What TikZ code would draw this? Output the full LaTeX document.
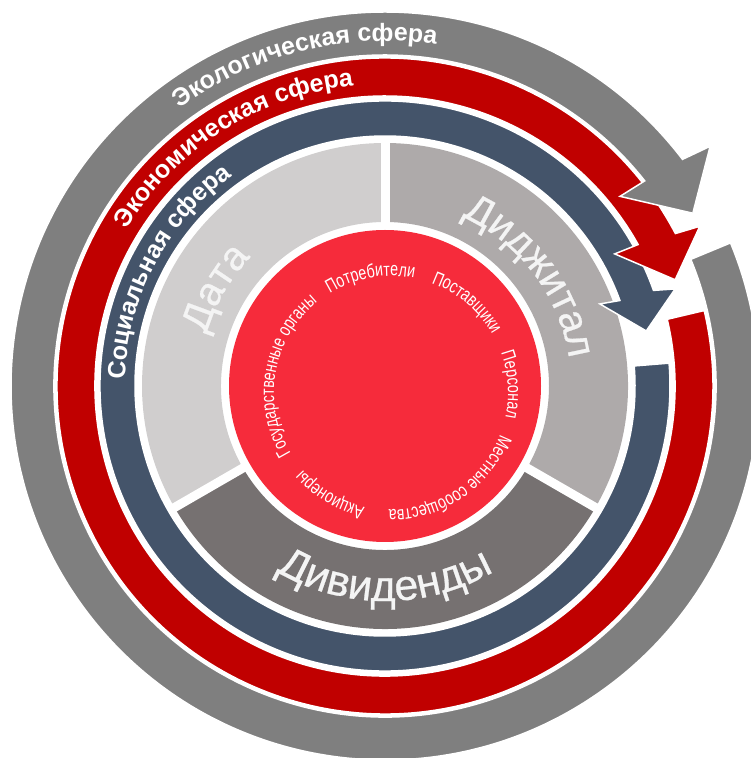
\documentclass[tikz,border=0pt]{standalone}
\usepackage{fontspec}
\setmainfont{Liberation Sans}
\newfontfamily\segfamily[FakeBold=0.6]{Liberation Sans}
\newfontfamily\corefamily[FakeStretch=0.75]{Liberation Sans}
\usetikzlibrary{decorations.text}
\definecolor{ringgrey}{HTML}{7F7F7F}
\definecolor{ringred}{HTML}{C00000}
\definecolor{ringnavy}{HTML}{44546A}
\definecolor{coreRed}{HTML}{F62B3B}
\definecolor{segA}{HTML}{D0CECE}
\definecolor{segB}{HTML}{AEAAAA}
\definecolor{segC}{HTML}{767171}
\definecolor{segtext}{HTML}{F4F4F4}
\newcommand\bandfont{\fontsize{25}{25}\selectfont\bfseries}
\newcommand\segfont{\fontsize{40}{40}\selectfont\segfamily}
\newcommand\segfontbig{\fontsize{43}{43}\selectfont\segfamily}
\newcommand\corefont{\fontsize{19}{19}\selectfont\corefamily}
\tikzset{
  ringshape/.style={fill=#1, draw=white, line width=1.5pt, line join=miter},
  segshape/.style={fill=#1},
  sepline/.style={white, line width=9pt},
  curvedtext/.style={decorate, decoration={text along path, text align=center, text color=white, text={#1}}},
  segtextpath/.style={decorate, decoration={text along path, text align=center, text color=segtext, text={#1}}}
}
\begin{document}
\begin{tikzpicture}[x=1pt,y=1pt]
\useasboundingbox (0,0) rectangle (751,758);
\begin{scope}[shift={(385,372)}]
  % segment ring
  \fill[segshape=segA] (90:243) arc[start angle=90,end angle=210,radius=243] -- (210:164) arc[start angle=210,end angle=90,radius=164] -- cycle;
  \fill[segshape=segB] (-30:243) arc[start angle=-30,end angle=90,radius=243] -- (90:164) arc[start angle=90,end angle=-30,radius=164] -- cycle;
  \fill[segshape=segC] (210:243) arc[start angle=210,end angle=330,radius=243] -- (330:164) arc[start angle=330,end angle=210,radius=164] -- cycle;
  \draw[sepline] (90:160) -- (90:247);
  \draw[sepline] (210:160) -- (210:247);
  \draw[sepline] (330:160) -- (330:247);
  % core
  \fill[coreRed] (0,0) circle[radius=156];
  % navy arrow
  \filldraw[ringshape=ringnavy] (20:250) -- (20.9:230) -- (11.9:267) -- (18.5:306) -- (19.6:285)
     arc[start angle=19.6,end angle=364.6,radius=285] -- (364.6:250)
     arc[start angle=364.6,end angle=20,radius=250] -- cycle;
  % red arrow
  \filldraw[ringshape=ringred] (29.2:290) -- (29.9:265) -- (20.1:309) -- (26.9:353) -- (27.7:328)
     arc[start angle=27.7,end angle=373.3,radius=328] -- (373.3:290)
     arc[start angle=373.3,end angle=29.2,radius=290] -- cycle;
  % grey arrow
  \filldraw[ringshape=ringgrey] (38.3:331) -- (38.9:302) -- (29.3:353) -- (36.4:404) -- (37.3:374)
     arc[start angle=37.3,end angle=382.5,radius=374] -- (382.5:331)
     arc[start angle=382.5,end angle=38.3,radius=331] -- cycle;
  % ring labels
  \path[curvedtext={|\bandfont|Экологическая сфера}] (170:345) arc[start angle=170,end angle=38,radius=345];
  \path[curvedtext={|\bandfont|Экономическая сфера}] (188.4:302) arc[start angle=188.4,end angle=56.4,radius=302];
  \path[curvedtext={|\bandfont|Социальная сфера}] (218:260) arc[start angle=218,end angle=86.6,radius=260];
  % segment labels
  \path[segtextpath={|\segfont|Дата}] (210:186) arc[start angle=210,end angle=90,radius=186];
  \path[segtextpath={|\segfont|Диджитал}] (97:186) arc[start angle=97,end angle=-23,radius=186];
  \path[segtextpath={|\segfontbig|Дивиденды}] (200:215) arc[start angle=200,end angle=340,radius=215];
  % core labels
  \begin{scope}[shift={(6,-7)}]
    \path[curvedtext={|\corefont|Государственные органы}] (255:117) arc[start angle=255,end angle=85,radius=117];
    \path[curvedtext={|\corefont|Потребители}] (185:117) arc[start angle=185,end angle=15,radius=117];
    \path[curvedtext={|\corefont|Поставщики}] (135:117) arc[start angle=135,end angle=-35,radius=117];
    \path[curvedtext={|\corefont|Персонал}] (89:117) arc[start angle=89,end angle=-81,radius=117];
    \path[curvedtext={|\corefont|Местные сообщества}] (29:117) arc[start angle=29,end angle=-141,radius=117];
    \path[curvedtext={|\corefont|Акционеры}] (-36:117) arc[start angle=-36,end angle=-206,radius=117];
  \end{scope}
\end{scope}
\end{tikzpicture}
\end{document}
